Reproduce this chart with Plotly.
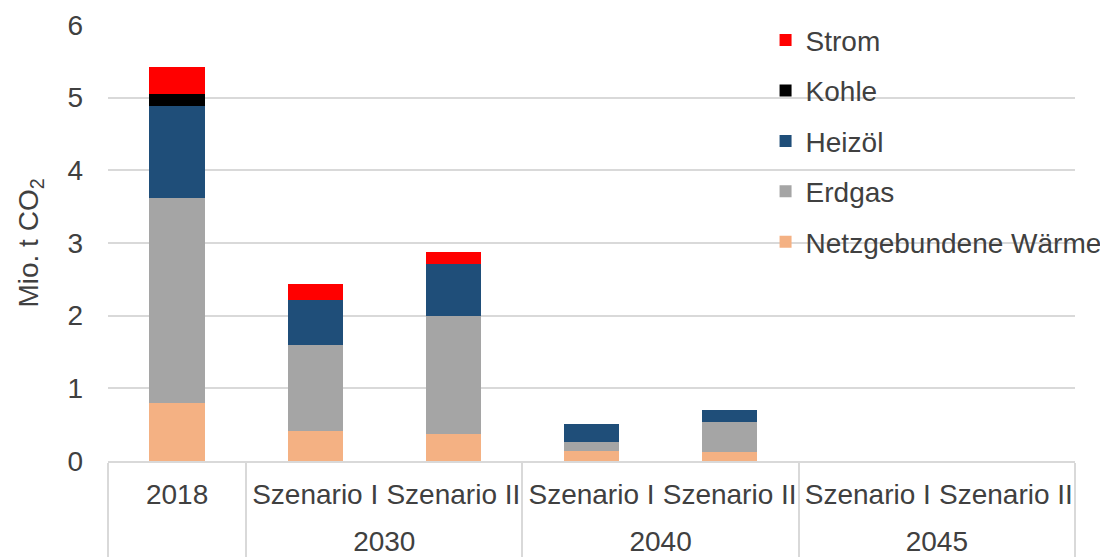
import plotly.graph_objects as go

outer = [" ", "2030", "2030", "2040", "2040", "2045", "2045"]
inner = ["2018", "Szenario I", "Szenario II", "Szenario I", "Szenario II", "Szenario I", "Szenario II"]

netz = [0.80, 0.41, 0.37, 0.14, 0.12, 0, 0]
erdgas = [2.82, 1.18, 1.62, 0.12, 0.41, 0, 0]
heizoel = [1.26, 0.62, 0.72, 0.25, 0.17, 0, 0]
kohle = [0.17, 0, 0, 0, 0, 0, 0]
strom = [0.37, 0.23, 0.16, 0, 0, 0, 0]

series = [
    ("Netzgebundene Wärme", netz, "#f4b183"),
    ("Erdgas", erdgas, "#a5a5a5"),
    ("Heizöl", heizoel, "#1f4e79"),
    ("Kohle", kohle, "#000000"),
    ("Strom", strom, "#ff0000"),
]

FONT = "Liberation Sans, Arial, sans-serif"
TXT = "#404040"
GRID = "#d9d9d9"
FS = 28

# a tall invisible spacer on one inner label gives the second label row more room
spacer = "<span style='font-size:48px'> </span>"
inner_lbl = [spacer + inner[0] + spacer] + inner[1:]

fig = go.Figure()
n = len(series)
for i, (name, vals, col) in enumerate(series):
    fig.add_trace(go.Bar(
        x=[outer, inner_lbl], y=vals, name=name,
        marker=dict(color=col, line=dict(width=0)),
        width=0.4, legendgroup=f"g{i}", legendrank=n - i,
    ))

fig.update_layout(
    barmode="stack",
    width=1100, height=549,
    margin=dict(l=100, r=33, t=16.5, b=96, autoexpand=False),
    paper_bgcolor="white", plot_bgcolor="white",
    font=dict(family=FONT, size=FS, color=TXT),
    legend=dict(
        x=0.68, y=1.022, xanchor="left", yanchor="top",
        traceorder="grouped", tracegroupgap=11,
        font=dict(size=FS, color=TXT), bgcolor="rgba(0,0,0,0)",
    ),
    showlegend=True,
)
fig.update_xaxes(
    type="multicategory", automargin=False,
    showline=True, linecolor=GRID, linewidth=1.5,
    showdividers=True, dividercolor=GRID, dividerwidth=1.5,
    tickfont=dict(size=FS, color=TXT), tickangle=0,
    ticks="", ticklabelstandoff=8,
)
fig.update_yaxes(
    range=[0, 6], dtick=1, automargin=False,
    showgrid=True, gridcolor=GRID, gridwidth=1.5,
    zeroline=False,
    tickfont=dict(size=FS, color=TXT),
    ticklabelstandoff=24,
    title=dict(text="Mio. t CO<sub>2</sub>", font=dict(size=FS, color=TXT), standoff=20),
)

fig.write_html("out.html")
